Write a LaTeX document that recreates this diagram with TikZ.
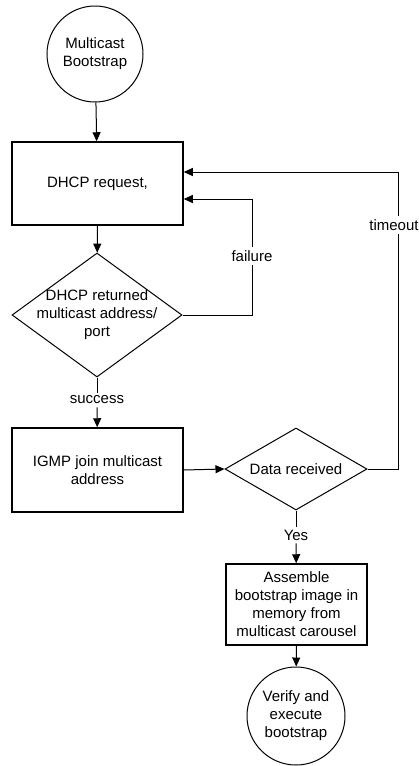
\documentclass[tikz,border=0pt]{standalone}
\usepackage{fontspec}
\setmainfont{Liberation Sans}
\usetikzlibrary{arrows.meta,shapes.geometric}

\begin{document}
\begin{tikzpicture}[x=1pt,y=-1pt,
  every node/.style={font=\fontsize{15}{18}\selectfont},
  procbox/.style={draw, line width=1.5pt, rectangle, inner sep=0pt, align=center},
  terminal/.style={draw, line width=1pt, circle, inner sep=0pt, align=center},
  decision/.style={draw, line width=1pt, diamond, inner sep=0pt},
  arr/.style={-{Triangle[length=9pt,width=8pt]}, line width=1pt},
  ln/.style={line width=1pt},
  lbl/.style={inner sep=3pt}
]
\useasboundingbox (0,0) rectangle (419,766);

% process steps
\node[terminal, minimum size=96pt] (start) at (95,54) {Multicast\\Bootstrap};
\node[procbox, minimum width=171pt, minimum height=83pt] (dhcp) at (97.5,183.5) {DHCP request,};
\node[decision, minimum width=170pt, minimum height=124pt,
      label={[align=center]center:DHCP returned\\multicast address/\\port}] (ret) at (97,315) {};
\node[procbox, minimum width=171pt, minimum height=84pt] (igmp) at (97.5,470) {IGMP join multicast\\address};
\node[decision, minimum width=142pt, minimum height=82pt,
      label={center:Data received}] (data) at (296,469) {};
\node[procbox, minimum width=141pt, minimum height=81pt] (asm) at (296.5,604.5)
  {Assemble\\bootstrap image in\\memory from\\multicast carousel};
\node[terminal, minimum size=98pt] (verify) at (296,716) {Verify and\\execute\\bootstrap};

% branch labels
\node[lbl] (succ) at (97,400) {success};
\node[lbl] (fail) at (252,256) {failure};
\node[lbl] (tout) at (394,225) {timeout};
\node[lbl] (yes) at (296,535) {Yes};

\coordinate (fc) at (252,199);
\coordinate (tc) at (398,172);

% main flow
\draw[arr] (start) -- (dhcp);
\draw[arr] (dhcp) -- (ret);
\draw[ln] (ret.south) -- (succ);
\draw[arr] (succ) -- (igmp);
\draw[arr] (igmp.east) -- (data.west);
\draw[ln] (data.south) -- (yes);
\draw[arr] (yes) -- (asm);
\draw[arr] (asm) -- (verify);

% retry loops
\draw[ln] (ret.east) -| (fail);
\draw[arr] (fail) |- (dhcp.east |- fc);
\draw[ln] (data.east) -| (tout.south -| tc);
\draw[arr] (tout.north -| tc) |- (dhcp.east |- tc);
\end{tikzpicture}
\end{document}
